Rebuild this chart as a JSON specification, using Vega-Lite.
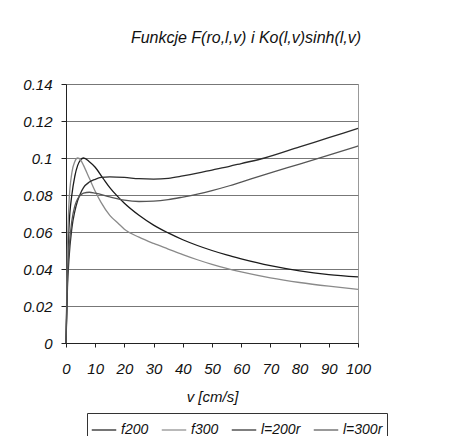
{
  "$schema": "https://vega.github.io/schema/vega-lite/v6.json",
  "autosize": "none",
  "width": 292,
  "height": 259,
  "padding": {"left": 66, "top": 84, "right": 109, "bottom": 93},
  "background": "white",
  "title": {"text": "Funkcje F(ro,l,v) i Ko(l,v)sinh(l,v)", "font": "Liberation Sans", "fontStyle": "italic", "fontWeight": "normal", "fontSize": 16, "color": "#111", "anchor": "middle", "dx": 34, "offset": 31},
  "data": {"values": [
    {"s": "f200", "v": 0, "y": 0}, {"s": "f200", "v": 0.5, "y": 0.04}, {"s": "f200", "v": 1, "y": 0.062}, {"s": "f200", "v": 2, "y": 0.08}, {"s": "f200", "v": 3, "y": 0.09}, {"s": "f200", "v": 4, "y": 0.096}, {"s": "f200", "v": 5, "y": 0.099}, {"s": "f200", "v": 6, "y": 0.1}, {"s": "f200", "v": 8, "y": 0.098}, {"s": "f200", "v": 10, "y": 0.095}, {"s": "f200", "v": 12.7, "y": 0.089}, {"s": "f200", "v": 15, "y": 0.084}, {"s": "f200", "v": 17.5, "y": 0.0795}, {"s": "f200", "v": 20, "y": 0.0755}, {"s": "f200", "v": 25, "y": 0.069}, {"s": "f200", "v": 30, "y": 0.0637}, {"s": "f200", "v": 35, "y": 0.0595}, {"s": "f200", "v": 40, "y": 0.0558}, {"s": "f200", "v": 45, "y": 0.0527}, {"s": "f200", "v": 50, "y": 0.05}, {"s": "f200", "v": 55, "y": 0.0476}, {"s": "f200", "v": 60, "y": 0.0455}, {"s": "f200", "v": 70, "y": 0.0418}, {"s": "f200", "v": 80, "y": 0.039}, {"s": "f200", "v": 90, "y": 0.037}, {"s": "f200", "v": 100, "y": 0.0357},
    {"s": "f300", "v": 0, "y": 0}, {"s": "f300", "v": 0.5, "y": 0.05}, {"s": "f300", "v": 1, "y": 0.075}, {"s": "f300", "v": 2, "y": 0.092}, {"s": "f300", "v": 3, "y": 0.098}, {"s": "f300", "v": 4, "y": 0.1}, {"s": "f300", "v": 5, "y": 0.099}, {"s": "f300", "v": 6, "y": 0.096}, {"s": "f300", "v": 8, "y": 0.089}, {"s": "f300", "v": 10, "y": 0.082}, {"s": "f300", "v": 12, "y": 0.076}, {"s": "f300", "v": 15, "y": 0.069}, {"s": "f300", "v": 18, "y": 0.0645}, {"s": "f300", "v": 20, "y": 0.0615}, {"s": "f300", "v": 25, "y": 0.0572}, {"s": "f300", "v": 30, "y": 0.0538}, {"s": "f300", "v": 35, "y": 0.0508}, {"s": "f300", "v": 40, "y": 0.0478}, {"s": "f300", "v": 45, "y": 0.045}, {"s": "f300", "v": 50, "y": 0.0425}, {"s": "f300", "v": 55, "y": 0.0403}, {"s": "f300", "v": 60, "y": 0.0384}, {"s": "f300", "v": 70, "y": 0.0352}, {"s": "f300", "v": 80, "y": 0.0327}, {"s": "f300", "v": 90, "y": 0.0307}, {"s": "f300", "v": 100, "y": 0.029},
    {"s": "l=200r", "v": 0, "y": 0}, {"s": "l=200r", "v": 0.5, "y": 0.03}, {"s": "l=200r", "v": 1, "y": 0.045}, {"s": "l=200r", "v": 2, "y": 0.062}, {"s": "l=200r", "v": 3, "y": 0.071}, {"s": "l=200r", "v": 4, "y": 0.077}, {"s": "l=200r", "v": 5, "y": 0.081}, {"s": "l=200r", "v": 6, "y": 0.084}, {"s": "l=200r", "v": 8, "y": 0.087}, {"s": "l=200r", "v": 10, "y": 0.0885}, {"s": "l=200r", "v": 12, "y": 0.0895}, {"s": "l=200r", "v": 15, "y": 0.0898}, {"s": "l=200r", "v": 20, "y": 0.0895}, {"s": "l=200r", "v": 25, "y": 0.0888}, {"s": "l=200r", "v": 30, "y": 0.0886}, {"s": "l=200r", "v": 35, "y": 0.089}, {"s": "l=200r", "v": 40, "y": 0.0903}, {"s": "l=200r", "v": 45, "y": 0.0918}, {"s": "l=200r", "v": 50, "y": 0.0935}, {"s": "l=200r", "v": 56, "y": 0.0955}, {"s": "l=200r", "v": 60, "y": 0.097}, {"s": "l=200r", "v": 68, "y": 0.1}, {"s": "l=200r", "v": 80, "y": 0.106}, {"s": "l=200r", "v": 90, "y": 0.111}, {"s": "l=200r", "v": 100, "y": 0.116},
    {"s": "l=300r", "v": 0, "y": 0}, {"s": "l=300r", "v": 0.5, "y": 0.035}, {"s": "l=300r", "v": 1, "y": 0.05}, {"s": "l=300r", "v": 2, "y": 0.066}, {"s": "l=300r", "v": 3, "y": 0.074}, {"s": "l=300r", "v": 4, "y": 0.078}, {"s": "l=300r", "v": 5, "y": 0.08}, {"s": "l=300r", "v": 6, "y": 0.081}, {"s": "l=300r", "v": 8, "y": 0.0815}, {"s": "l=300r", "v": 10, "y": 0.081}, {"s": "l=300r", "v": 15, "y": 0.079}, {"s": "l=300r", "v": 20, "y": 0.0772}, {"s": "l=300r", "v": 25, "y": 0.0765}, {"s": "l=300r", "v": 30, "y": 0.0767}, {"s": "l=300r", "v": 35, "y": 0.0775}, {"s": "l=300r", "v": 40, "y": 0.0789}, {"s": "l=300r", "v": 45, "y": 0.0805}, {"s": "l=300r", "v": 50, "y": 0.0824}, {"s": "l=300r", "v": 56, "y": 0.085}, {"s": "l=300r", "v": 60, "y": 0.087}, {"s": "l=300r", "v": 70, "y": 0.092}, {"s": "l=300r", "v": 80, "y": 0.0967}, {"s": "l=300r", "v": 90, "y": 0.1015}, {"s": "l=300r", "v": 100, "y": 0.1065}
  ]},
  "mark": {"type": "line", "strokeWidth": 1.3, "interpolate": "monotone"},
  "encoding": {
    "x": {"field": "v", "type": "quantitative", "scale": {"domain": [0, 100], "nice": false},
      "axis": {"values": [0,10,20,30,40,50,60,70,80,90,100], "labelOverlap": false, "labelFlush": false, "title": "v  [cm/s]", "grid": false, "domainColor": "#222", "tickColor": "#222", "tickSize": 4, "labelPadding": 14, "titlePadding": 13, "labelFont": "Liberation Sans", "labelFontStyle": "italic", "labelFontSize": 15, "labelColor": "#111", "titleFont": "Liberation Sans", "titleFontStyle": "italic", "titleFontWeight": "normal", "titleFontSize": 15, "titleColor": "#111"}},
    "y": {"field": "y", "type": "quantitative", "scale": {"domain": [0, 0.14], "nice": false},
      "axis": {"values": [0,0.02,0.04,0.06,0.08,0.1,0.12,0.14], "labelOverlap": false, "labelFlush": false, "labelExpr": "datum.value == 0 ? '0' : replace(format(datum.value, '.2f'), /0$/, '')", "title": null, "grid": true, "gridColor": "#777", "gridWidth": 1, "domainColor": "#222", "tickColor": "#222", "tickSize": 5, "labelPadding": 9, "labelFont": "Liberation Sans", "labelFontStyle": "italic", "labelFontSize": 15, "labelColor": "#111"}},
    "color": {"field": "s", "type": "nominal", "scale": {"domain": ["f200", "f300", "l=200r", "l=300r"], "range": ["#1a1a1a", "#8a8a8a", "#2a2a2a", "#555555"]},
      "legend": {"title": null, "orient": "none", "legendX": 21, "legendY": 329, "direction": "horizontal", "symbolType": "stroke", "symbolSize": 600, "symbolStrokeWidth": 1.2, "strokeColor": "#333", "padding": 4, "columnPadding": 10, "labelOffset": 4, "labelFont": "Liberation Sans", "labelFontStyle": "italic", "labelFontSize": 14, "labelColor": "#111"}}
  },
  "config": {"view": {"stroke": "#999"}}
}
